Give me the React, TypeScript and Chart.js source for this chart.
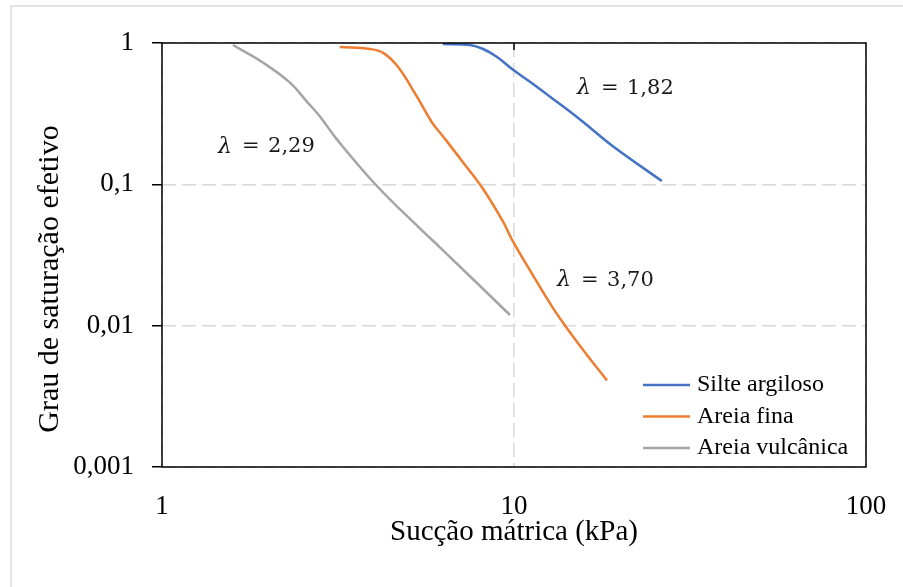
import React, { useEffect, useRef } from 'react';
import { Chart, registerables } from 'chart.js';

Chart.register(...registerables);

const seriesNames = ['Silte argiloso', 'Areia fina', 'Areia vulcânica'];
const seriesColors = ['#4472C4', '#ED7D31', '#A5A5A5'];

const siltX = [6.28, 7.5, 8.17, 8.95, 9.94, 11.1, 12.66, 15.4, 19.1, 26.3];
const siltY = [0.984, 0.968, 0.907, 0.797, 0.646, 0.532, 0.417, 0.288, 0.186, 0.1055];

const fineX = [3.2, 3.9, 4.25, 4.68, 5.3, 5.85, 6.28, 7.16, 8.17, 9.31, 9.94, 11.32, 12.91, 14.14, 16.12, 18.37];
const fineY = [0.937, 0.907, 0.851, 0.678, 0.417, 0.274, 0.219, 0.1435, 0.0927, 0.0544, 0.0393, 0.0227, 0.0133, 0.0096, 0.0062, 0.0041];

const volcX = [1.59, 1.94, 2.31, 2.58, 2.81, 3.14, 4.08, 5.41, 6.17, 9.74];
const volcY = [0.968, 0.724, 0.524, 0.385, 0.302, 0.208, 0.0973, 0.0486, 0.0357, 0.0119];

const xTicks = [1, 10, 100];
const xTickLabels = ['1', '10', '100'];
const yTicks = [0.001, 0.01, 0.1, 1];
const yTickLabels = ['0,001', '0,01', '0,1', '1'];

const xTitle = 'Sucção mátrica (kPa)';
const yTitle = 'Grau de saturação efetivo';

const lambdaValues = ['2,29', '1,82', '3,70'];
const lambdaAnchorX = [1.443, 15.1, 13.25];
const lambdaAnchorY = [0.1837, 0.48, 0.021];

const toPoints = (xs: number[], ys: number[]) => xs.map((x, i) => ({ x, y: ys[i] }));

const decorPlugin = {
  id: 'decor',
  beforeDraw(chart: any) {
    const { ctx, width, height } = chart;
    ctx.save();
    ctx.fillStyle = '#ffffff';
    ctx.fillRect(0, 0, width, height);
    ctx.strokeStyle = '#e3e3e3';
    ctx.lineWidth = 2;
    ctx.beginPath();
    ctx.moveTo(11, height);
    ctx.lineTo(11, 6);
    ctx.lineTo(width, 6);
    ctx.stroke();
    ctx.restore();
  },
  afterDatasetsDraw(chart: any) {
    const { ctx, chartArea: a, scales } = chart;
    const xs = scales.x;
    const ys = scales.y;
    ctx.save();
    // frame
    ctx.strokeStyle = '#000';
    ctx.lineWidth = 1.5;
    ctx.strokeRect(a.left, a.top, a.right - a.left, a.bottom - a.top);
    // inner top ticks for x axis
    xs.ticks.forEach((t: any) => {
      const px = xs.getPixelForValue(t.value);
      if (px > a.left + 2 && px < a.right - 2) {
        ctx.beginPath();
        ctx.moveTo(px, a.top);
        ctx.lineTo(px, a.top + 7);
        ctx.stroke();
      }
    });
    // y axis title (offset below centre like the original)
    ctx.save();
    ctx.fillStyle = '#000';
    ctx.font = '30px "Liberation Serif"';
    ctx.textAlign = 'center';
    ctx.textBaseline = 'middle';
    ctx.translate(50, (a.top + a.bottom) / 2 + 24);
    ctx.rotate(-Math.PI / 2);
    ctx.fillText(yTitle, 0, 0);
    ctx.restore();
    // lambda annotations
    ctx.fillStyle = '#1a1a1a';
    ctx.textBaseline = 'middle';
    ctx.textAlign = 'left';
    lambdaValues.forEach((v, i) => {
      const px = xs.getPixelForValue(lambdaAnchorX[i]);
      const py = ys.getPixelForValue(lambdaAnchorY[i]);
      ctx.font = 'italic 22px "DejaVu Serif"';
      ctx.fillText('λ', px, py);
      ctx.font = '21px "DejaVu Serif"';
      ctx.fillText('=', px + 24, py);
      ctx.fillText(v, px + 50, py);
    });
    // legend
    ctx.font = '24px "Liberation Serif"';
    ctx.fillStyle = '#000';
    chart.data.datasets.forEach((ds: any, i: number) => {
      const y = a.bottom - 82 + i * 31.5;
      ctx.strokeStyle = ds.borderColor;
      ctx.lineWidth = 2.5;
      ctx.beginPath();
      ctx.moveTo(a.right - 223, y);
      ctx.lineTo(a.right - 176, y);
      ctx.stroke();
      ctx.fillText(ds.label, a.right - 169, y);
    });
    ctx.restore();
  },
};

export default function App() {
  const ref = useRef<HTMLCanvasElement>(null);

  useEffect(() => {
    if (!ref.current) return;
    const datasets = [
      toPoints(siltX, siltY),
      toPoints(fineX, fineY),
      toPoints(volcX, volcY),
    ].map((data, i) => ({
      label: seriesNames[i],
      data,
      borderColor: seriesColors[i],
      backgroundColor: seriesColors[i],
      borderWidth: 2.5,
      pointRadius: 0,
      tension: 0.4,
      fill: false,
    }));

    const chart = new Chart(ref.current, {
      type: 'line',
      data: { datasets },
      plugins: [decorPlugin],
      options: {
        responsive: false,
        animation: false,
        layout: { padding: { top: 43, right: 37, left: 0, bottom: 0 } },
        plugins: { legend: { display: false }, tooltip: { enabled: false } },
        scales: {
          x: {
            type: 'logarithmic',
            min: 1,
            max: 100,
            afterBuildTicks: (s: any) => {
              s.ticks = xTicks.map((v) => ({ value: v }));
            },
            afterFit: (s: any) => {
              s.height = 120;
              s.paddingLeft = 0;
              s.paddingRight = 0;
            },
            ticks: {
              autoSkip: false,
              maxRotation: 0,
              padding: 26.5,
              color: '#000',
              font: { family: '"Liberation Serif"', size: 27, lineHeight: 1 },
              callback: (v: any) => xTickLabels[xTicks.indexOf(Number(v))] ?? '',
            },
            grid: {
              color: '#d9d9d9',
              lineWidth: 1.5,
              drawTicks: false,
              tickLength: 0,
            },
            border: { display: false, dash: [14, 6] },
            title: {
              display: true,
              text: xTitle,
              color: '#000',
              font: { family: '"Liberation Serif"', size: 29, lineHeight: 1 },
              padding: { top: 0, bottom: 40 },
            },
          },
          y: {
            type: 'logarithmic',
            min: 0.001,
            max: 1,
            afterBuildTicks: (s: any) => {
              s.ticks = yTicks.map((v) => ({ value: v }));
            },
            afterFit: (s: any) => {
              s.width = 162;
              s.paddingTop = 0;
              s.paddingBottom = 0;
            },
            ticks: {
              autoSkip: false,
              padding: 18,
              color: '#000',
              font: { family: '"Liberation Serif"', size: 27, lineHeight: 1 },
              callback: (v: any) => yTickLabels[yTicks.indexOf(Number(v))] ?? '',
            },
            grid: {
              color: '#d9d9d9',
              lineWidth: 1.5,
              drawTicks: true,
              tickLength: 10,
              tickColor: '#000',
              tickWidth: 1.5,
              tickBorderDash: [],
            },
            border: { display: false, dash: [14, 6] },
            title: { display: false, text: yTitle },
          },
        },
      } as any,
    });
    return () => chart.destroy();
  }, []);

  return (
    <div style={{ position: 'fixed', left: 0, top: 0, width: 903, height: 587, background: '#fff' }}>
      <canvas ref={ref} width={903} height={587} style={{ display: 'block', width: 903, height: 587 }} />
    </div>
  );
}
